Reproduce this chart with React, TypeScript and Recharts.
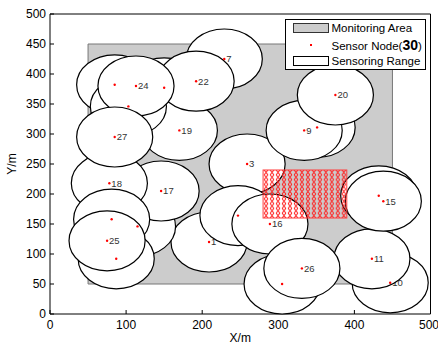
import React from 'react';
import { ScatterChart, Scatter, XAxis, YAxis, ReferenceArea, Legend } from 'recharts';

// sensor nodes, listed in drawing order (later ranges cover earlier ones)
const nodeX = [209, 85, 259, 247, 351, 115, 229, 150, 334, 447, 423, 432, 87, 305, 438, 289, 146, 78, 170, 375, 81, 192, 103, 113, 75, 331, 85];
const nodeY = [120, 382, 250, 164, 311, 146, 425, 377, 306, 52, 92, 197, 92, 50, 188, 150, 205, 218, 306, 365, 158, 388, 346, 380, 122, 76, 295];
const nodeLabel = ['1', '', '3', '', '', '', '7', '', '9', '10', '11', '', '', '', '15', '16', '17', '18', '19', '20', '', '22', '', '24', '25', '26', '27'];

const xTicks = [0, 100, 200, 300, 400, 500];
const yTicks = [0, 50, 100, 150, 200, 250, 300, 350, 400, 450, 500];

const monitorX = [50, 450];
const monitorY = [50, 450];
const targetX = [280, 390];
const targetY = [160, 240];
const senseRadius = 50;
const nodeCount = 30;

const FONT = '"Liberation Sans", Arial, Helvetica, sans-serif';
const W = 438;
const H = 345;
const LEFT_W = 50;
const RIGHT_W = 7.5;
const TOP_H = 14;
const BOTTOM_H = 31;
const PLOT_W = W - LEFT_W - RIGHT_W;
const PLOT_H = H - TOP_H - BOTTOM_H;

const nodes = nodeX.map((x, i) => ({ x, y: nodeY[i], label: nodeLabel[i] }));

// sensing range: circle of radius senseRadius in data units -> ellipse on screen
const RangeShape = (props: any) => {
  const { cx, cy, payload } = props;
  const rx = (senseRadius * PLOT_W) / 500;
  const ry = (senseRadius * PLOT_H) / 500;
  return (
    <g>
      <ellipse cx={cx} cy={cy} rx={rx} ry={ry} fill="#fff" stroke="#000" strokeWidth={1.2} />
      {payload.label && (
        <text x={cx + 2} y={cy} dy="0.35em" fontSize={9.5} fontFamily={FONT} fill="#333">
          {payload.label}
        </text>
      )}
    </g>
  );
};

const NodeDot = (props: any) => <circle cx={props.cx} cy={props.cy} r={1.2} fill="#ff0000" />;

const HatchShape = (props: any) => {
  const { x, y, width, height } = props;
  const pw = width / 14;
  const ph = height / 10;
  return (
    <g>
      <defs>
        <pattern id="xhatch" patternUnits="userSpaceOnUse" x={x} y={y} width={pw} height={ph}>
          <path
            d={`M${pw * 0.18},0 L${pw * 0.82},${ph} M${pw * 0.82},0 L${pw * 0.18},${ph}`}
            stroke="#ff1a1a"
            strokeWidth={1}
          />
        </pattern>
      </defs>
      <rect x={x} y={y} width={width} height={height} fill="url(#xhatch)" stroke="#ff3b3b" strokeWidth={1} />
    </g>
  );
};

const LegendBox = () => (
  <div
    style={{
      position: 'relative',
      width: 141,
      height: 51,
      border: '1px solid #000',
      boxSizing: 'border-box',
      background: '#fff',
      fontFamily: FONT,
      fontSize: 11.5,
      color: '#000',
      lineHeight: '14px',
      whiteSpace: 'nowrap',
    }}
  >
    <div style={{ position: 'absolute', left: 7, top: 3, width: 36, height: 10, background: '#ccc', border: '1px solid #333', boxSizing: 'border-box' }} />
    <div style={{ position: 'absolute', left: 46, top: 1 }}>Monitoring Area</div>
    <div style={{ position: 'absolute', left: 24, top: 24, width: 2, height: 2, background: '#ff0000' }} />
    <div style={{ position: 'absolute', left: 46, top: 17.5 }}>
      Sensor Node(<b style={{ fontSize: 14 }}>{nodeCount}</b>)
    </div>
    <div style={{ position: 'absolute', left: 7, top: 36, width: 36, height: 10, background: '#fff', border: '1px solid #000', boxSizing: 'border-box' }} />
    <div style={{ position: 'absolute', left: 46, top: 34 }}>Sensoring Range</div>
  </div>
);

const tickStyle = { fontSize: 12, fontFamily: FONT, fill: '#000' };

export default function App() {
  return (
    <div style={{ position: 'absolute', left: 0, top: 0, background: '#fff' }}>
      <ScatterChart width={W} height={H} margin={{ top: 0, right: 0, bottom: 0, left: 0 }}>
        <XAxis
          type="number"
          dataKey="x"
          domain={[0, 500]}
          ticks={xTicks}
          height={BOTTOM_H}
          stroke="#000"
          tick={tickStyle}
          tickSize={-4}
          tickMargin={10}
          label={{ value: 'X/m', position: 'insideBottom', offset: 3, style: { fontSize: 12, fontFamily: FONT, fill: '#000' } }}
        />
        <YAxis
          type="number"
          dataKey="y"
          domain={[0, 500]}
          ticks={yTicks}
          width={LEFT_W}
          stroke="#000"
          tick={tickStyle}
          tickSize={-4}
          tickMargin={8}
          label={{ value: 'Y/m', angle: -90, position: 'insideLeft', offset: 12, style: { fontSize: 12, fontFamily: FONT, fill: '#000', textAnchor: 'middle' } }}
        />
        <XAxis xAxisId="top" orientation="top" type="number" domain={[0, 500]} ticks={xTicks} height={TOP_H} stroke="#000" tick={false} tickSize={-4} />
        <YAxis yAxisId="right" orientation="right" type="number" domain={[0, 500]} ticks={yTicks} width={RIGHT_W} stroke="#000" tick={false} tickSize={-4} />

        <ReferenceArea
          x1={monitorX[0]}
          x2={monitorX[1]}
          y1={monitorY[0]}
          y2={monitorY[1]}
          fill="#cccccc"
          fillOpacity={1}
          stroke="#777"
          strokeWidth={1}
          zIndex={-10}
        />
        <Scatter data={nodes} shape={(p: any) => <RangeShape {...p} />} isAnimationActive={false} zIndex={600} />
        <ReferenceArea
          x1={targetX[0]}
          x2={targetX[1]}
          y1={targetY[0]}
          y2={targetY[1]}
          shape={(p: any) => <HatchShape {...p} />}
          zIndex={700}
        />
        <Scatter data={nodes} shape={(p: any) => <NodeDot {...p} />} isAnimationActive={false} zIndex={800} />

        <Legend
          layout="horizontal"
          verticalAlign="middle"
          align="center"
          content={() => <LegendBox />}
          wrapperStyle={{ position: 'absolute', left: 284.5, top: 19, width: 141, height: 51 }}
        />
      </ScatterChart>
    </div>
  );
}
